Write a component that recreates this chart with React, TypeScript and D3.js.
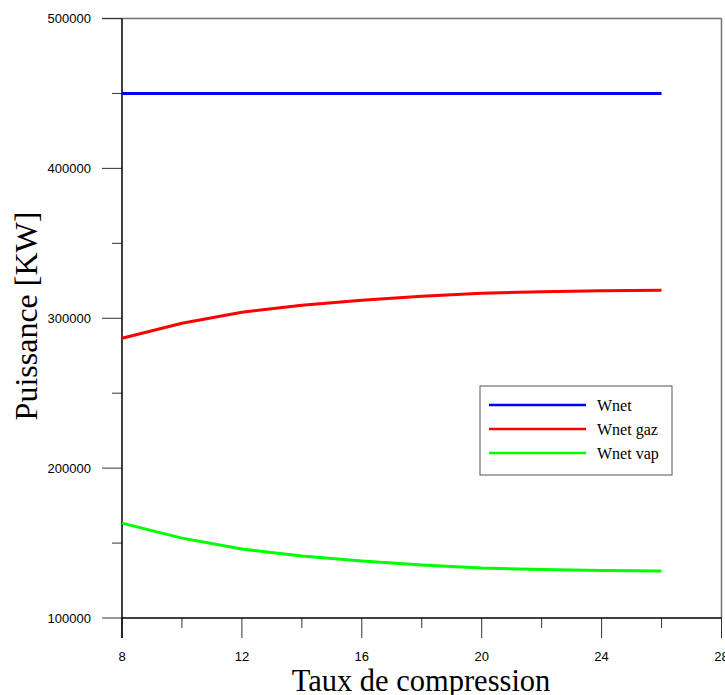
import React from "react";
import * as d3 from "d3";

const xValues = [8, 10, 12, 14, 16, 18, 20, 22, 24, 26];
const wnet = [450000, 450000, 450000, 450000, 450000, 450000, 450000, 450000, 450000, 450000];
const wnetGaz = [286700, 296700, 304000, 308700, 312000, 314700, 316700, 317700, 318300, 318700];
const wnetVap = [163300, 153300, 146000, 141300, 138000, 135300, 133300, 132300, 131700, 131300];
const xMajorTicks = [8, 12, 16, 20, 24, 28];
const xMinorTicks = [10, 14, 18, 22, 26];
const yMajorTicks = [100000, 200000, 300000, 400000, 500000];
const yMinorTicks = [150000, 250000, 350000, 450000];
const seriesNames = ["Wnet", "Wnet gaz", "Wnet vap"];
const seriesColors = ["#0000ff", "#ff0000", "#00ff00"];

export default function App() {
  const W = 725, H = 695;
  const left = 122, right = 721.5, top = 18.5, bottom = 618;
  const x = d3.scaleLinear().domain([8, 28]).range([left, right]);
  const y = d3.scaleLinear().domain([100000, 500000]).range([bottom, top]);
  const series = [wnet, wnetGaz, wnetVap];
  const line = d3.line<[number, number]>().x(d => x(d[0])).y(d => y(d[1]));
  const legX = 480, legY = 386;
  return (
    <svg width={W} height={H} style={{ position: "absolute", left: 0, top: 0 }}>
      <rect width={W} height={H} fill="#fff" />
      <line x1={102} x2={right} y1={top} y2={top} stroke="#707070" strokeWidth={1.5} />
      <line x1={right} x2={right} y1={top} y2={bottom} stroke="#707070" strokeWidth={1.5} />
      {yMajorTicks.map(t => (
        <g key={"ym" + t}>
          <line x1={102} x2={left} y1={y(t)} y2={y(t)} stroke="#333" strokeWidth={1} />
          <text x={91} y={y(t)} dy="0.35em" textAnchor="end" fontFamily="Arial, 'Liberation Sans', sans-serif" fontSize={13}>{t}</text>
        </g>
      ))}
      {yMinorTicks.map(t => (
        <line key={"yn" + t} x1={112} x2={left} y1={y(t)} y2={y(t)} stroke="#333" strokeWidth={1} />
      ))}
      {xMajorTicks.map(t => (
        <g key={"xm" + t}>
          <line x1={x(t)} x2={x(t)} y1={bottom} y2={bottom + 20} stroke="#333" strokeWidth={1} />
          <text x={x(t)} y={661} textAnchor="middle" fontFamily="Arial, 'Liberation Sans', sans-serif" fontSize={13}>{t}</text>
        </g>
      ))}
      {xMinorTicks.map(t => (
        <line key={"xn" + t} x1={x(t)} x2={x(t)} y1={bottom} y2={bottom + 10} stroke="#333" strokeWidth={1} />
      ))}
      <line x1={left} x2={right} y1={bottom} y2={bottom} stroke="#000" strokeWidth={1.5} />
      <line x1={left} x2={left} y1={top} y2={bottom + 20} stroke="#000" strokeWidth={1.5} />
      {series.map((s, i) => (
        <path key={i} d={line(xValues.map((v, j) => [v, s[j]] as [number, number])) || ""} fill="none" stroke={seriesColors[i]} strokeWidth={3} />
      ))}
      <rect x={legX} y={legY} width={192} height={89} fill="#fff" stroke="#555" strokeWidth={1} />
      {seriesNames.map((n, i) => (
        <g key={n}>
          <line x1={489} x2={586} y1={405 + i * 24} y2={405 + i * 24} stroke={seriesColors[i]} strokeWidth={2.5} />
          <text x={597} y={405 + i * 24} dy="0.35em" fontFamily="'Liberation Serif', 'Times New Roman', serif" fontSize={16}>{n}</text>
        </g>
      ))}
      <text x={421} y={691} textAnchor="middle" fontFamily="'Liberation Serif', 'Times New Roman', serif" fontSize={30.5}>Taux de compression</text>
      <text transform="translate(37,316) rotate(-90)" textAnchor="middle" fontFamily="'Liberation Serif', 'Times New Roman', serif" fontSize={32}>Puissance [KW]</text>
    </svg>
  );
}
